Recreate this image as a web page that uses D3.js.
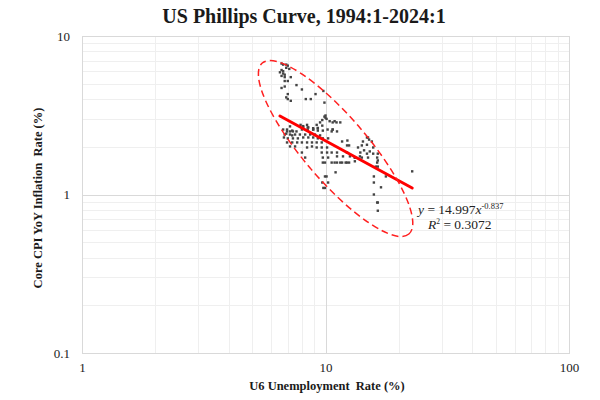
<!DOCTYPE html>
<html>
<head>
<meta charset="utf-8">
<script src="https://cdn.jsdelivr.net/npm/d3@7"></script>
<style>
  html, body { margin: 0; padding: 0; background: #fff; }
  svg { display: block; }
  text { white-space: pre; }
</style>
</head>
<body>
<svg id="chart" width="600" height="400"></svg>
<script>
// ---- Data ----
const title = "US Phillips Curve, 1994:1-2024:1";
const xLabel = "U6 Unemployment  Rate (%)";
const yLabel = "Core CPI YoY Inflation  Rate (%)";
const xTicks = [1, 10, 100];
const yTicks = [0.1, 1, 10];
const xTickLabels = ["1", "10", "100"];
const yTickLabels = ["0.1", "1", "10"];

// U6 unemployment rate (%)
const unemployment = [
  6.6,6.7,6.9,7.0,6.9,7.1,6.6,6.7,6.7,6.8,6.6,6.8,7.2,6.8,7.0,7.6,6.6,6.8,8.0,7.0,9.1,9.8,6.9,7.0,7.2,8.3,8.7,9.9,10.0,6.5,
  9.9,10.0,10.1,9.7,10.4,10.7,11.1,11.5,9.5,10.9,
  9.2,9.7,8.4,8.1,7.9,8.5,8.9,9.3,7.15,6.95,6.7,7.3,
  6.95,7.15,7.35,7.6,8.0,8.45,8.9,9.3,9.75,10.2,10.6,11.15,10.7,
  6.8,7.15,7.5,7.85,8.25,8.65,9.05,9.5,6.9,7.3,
  7.0,7.35,7.7,8.1,8.5,8.9,9.3,9.75,10.25,6.75,
  6.95,7.3,7.65,8.0,8.4,8.8,9.2,9.65,11.7,
  7.15,7.5,8.4,8.8,9.2,9.65,10.15,
  8.0,9.65,10.15,10.6,11.15,12.25,
  8.25,9.75,10.25,11.15,11.8,12.6,13.2,13.85,
  9.75,10.6,11.15,11.7,12.25,13.2,10.9,11.5,12.1,9.95,
  11.0,9.95,10.1,9.7,10.25,9.8,9.95,
  8.1,8.45,8.9,9.3,10.7,
  14.8,14.95,15.1,14.25,15.5,14.1,14.8,15.7,12.3,12.26,12.5,13.6,14.4,15.2,13.9,14.8,15.7,16.4,
  13.2,14.1,14.95,16.3,16.4,16.3,16.1,16.4,15.8,17.7,15.8,16.9,15.8,16.3,16.4,16.4,22.7,12.5
];
// Core CPI YoY inflation rate (%)
const inflation = [
  6.7,6.6,6.6,6.5,6.3,6.2,6.1,6.0,5.8,5.7,5.6,5.5,5.5,5.2,5.2,4.9,4.7,4.8,4.6,4.3,4.3,4.5,4.1,4.0,3.9,4.0,4.0,3.8,3.15,5.9,
  3.1,3.05,3.0,2.95,2.9,2.85,2.85,2.85,2.85,2.9,
  2.75,2.72,2.75,2.7,2.75,2.65,2.62,2.63,2.69,2.57,2.57,2.53,
  2.5,2.5,2.5,2.5,2.57,2.57,2.57,2.53,2.53,2.57,2.5,2.5,2.57,
  2.39,2.39,2.39,2.39,2.39,2.39,2.39,2.36,2.42,2.36,
  2.26,2.26,2.26,2.29,2.29,2.29,2.26,2.26,2.26,2.29,
  2.13,2.13,2.13,2.13,2.13,2.13,2.13,2.13,2.16,
  2.01,2.01,1.98,2.01,1.98,1.98,1.98,
  1.84,1.84,1.84,1.84,1.84,1.84,
  1.71,1.71,1.71,1.74,1.74,1.74,1.71,1.74,
  1.59,1.59,1.59,1.59,1.59,1.62,1.59,1.59,1.59,1.59,
  1.38,1.30,1.30,1.19,1.19,1.10,1.10,
  2.65,2.65,2.57,2.61,2.57,
  2.29,2.29,2.22,2.16,2.16,2.04,2.06,1.98,2.19,2.04,2.04,1.98,1.90,1.87,1.84,1.81,1.81,1.81,
  1.71,1.71,1.71,1.71,1.64,1.59,1.50,1.50,1.30,1.30,1.19,1.11,1.00,0.89,0.89,0.79,1.40,1.59
];

// Power trend line shown on the chart: y = a * x^b
const trendCoef = [14.997, -0.837];
const trendR2 = 0.3072;
// Dashed ellipse annotation: two tips of its long axis, in data units
const ellipseTips = [[5.5, 6.75], [22.0, 0.563]];

// ---- Layout / style ----
const svg = d3.select("#chart");
const W = 600, H = 400;
const plot = { left: 82, right: 569, top: 36, bottom: 353 };
const serif = "'Liberation Serif', 'Times New Roman', serif";

svg.append("rect").attr("width", W).attr("height", H).attr("fill", "#fff");

const x = d3.scaleLog().domain([1, 100]).range([plot.left, plot.right]);
const y = d3.scaleLog().domain([0.1, 10]).range([plot.bottom, plot.top]);

function minorVals(lo, hi) {
  const out = [];
  for (let d = lo; d < hi; d *= 10) for (let k = 2; k <= 9; k++) out.push(d * k);
  return out;
}
const g = svg.append("g");
g.selectAll(".vminor").data(minorVals(1, 100)).enter().append("line")
  .attr("x1", d => Math.round(x(d)) + 0.5).attr("x2", d => Math.round(x(d)) + 0.5)
  .attr("y1", plot.top).attr("y2", plot.bottom)
  .attr("stroke", "#efefef").attr("stroke-width", 1);
g.selectAll(".hminor").data(minorVals(0.1, 10)).enter().append("line")
  .attr("y1", d => Math.round(y(d)) + 0.5).attr("y2", d => Math.round(y(d)) + 0.5)
  .attr("x1", plot.left).attr("x2", plot.right)
  .attr("stroke", "#efefef").attr("stroke-width", 1);
g.selectAll(".vmajor").data(xTicks).enter().append("line")
  .attr("x1", d => Math.round(x(d)) + 0.5).attr("x2", d => Math.round(x(d)) + 0.5)
  .attr("y1", plot.top).attr("y2", plot.bottom)
  .attr("stroke", "#d9d9d9").attr("stroke-width", 1);
g.selectAll(".hmajor").data(yTicks).enter().append("line")
  .attr("y1", d => Math.round(y(d)) + 0.5).attr("y2", d => Math.round(y(d)) + 0.5)
  .attr("x1", plot.left).attr("x2", plot.right)
  .attr("stroke", "#d9d9d9").attr("stroke-width", 1);

// Axes (labels only, via d3 axes)
const xAxis = d3.axisBottom(x).tickValues(xTicks).tickFormat((d, i) => xTickLabels[i]).tickSize(0).tickPadding(10);
const yAxis = d3.axisLeft(y).tickValues(yTicks).tickFormat((d, i) => yTickLabels[i]).tickSize(0).tickPadding(12);
const gx = svg.append("g").attr("transform", `translate(0,${plot.bottom})`).call(xAxis);
const gy = svg.append("g").attr("transform", `translate(${plot.left},0)`).call(yAxis);
[gx, gy].forEach(a => {
  a.select(".domain").remove();
  a.selectAll("text").attr("font-family", serif).attr("font-size", 13).attr("fill", "#222");
});

// Scatter points
const pts = unemployment.map((u, i) => [u, inflation[i]]);
svg.append("g").selectAll("rect").data(pts).enter().append("rect")
  .attr("x", d => x(d[0]) - 1.2).attr("y", d => y(d[1]) - 1.2)
  .attr("width", 2.4).attr("height", 2.4)
  .attr("fill", "#444");

// Trend line
const xMin = d3.min(unemployment), xMax = d3.max(unemployment);
const trendPts = [xMin, xMax].map(u => [u, trendCoef[0] * Math.pow(u, trendCoef[1])]);
svg.append("line")
  .attr("x1", x(trendPts[0][0])).attr("y1", y(trendPts[0][1]))
  .attr("x2", x(trendPts[1][0])).attr("y2", y(trendPts[1][1]))
  .attr("stroke", "#ff0000").attr("stroke-width", 3).attr("stroke-linecap", "round");

// Ellipse annotation
const p1 = [x(ellipseTips[0][0]), y(ellipseTips[0][1])];
const p2 = [x(ellipseTips[1][0]), y(ellipseTips[1][1])];
const cx = (p1[0] + p2[0]) / 2, cy = (p1[1] + p2[1]) / 2;
const rx = Math.hypot(p2[0] - p1[0], p2[1] - p1[1]) / 2;
const ang = Math.atan2(p2[1] - p1[1], p2[0] - p1[0]) * 180 / Math.PI;
svg.append("ellipse")
  .attr("cx", 0).attr("cy", 0).attr("rx", rx).attr("ry", 32)
  .attr("transform", `translate(${cx},${cy}) rotate(${ang})`)
  .attr("fill", "none").attr("stroke", "#ff2020").attr("stroke-width", 1.5)
  .attr("stroke-dasharray", "7,4");

// Plot border
svg.append("rect")
  .attr("x", plot.left + 0.5).attr("y", plot.top + 0.5)
  .attr("width", plot.right - plot.left).attr("height", plot.bottom - plot.top)
  .attr("fill", "none").attr("stroke", "#d9d9d9");

// Equation text
const eq = svg.append("text").attr("x", 418).attr("y", 214)
  .attr("font-family", serif).attr("font-size", 13.5).attr("fill", "#222");
eq.append("tspan").attr("font-style", "italic").text("y");
eq.append("tspan").text(" = " + trendCoef[0].toFixed(3));
eq.append("tspan").attr("font-style", "italic").text("x");
eq.append("tspan").attr("font-size", 8.5).attr("dy", -5).text(trendCoef[1].toFixed(3));
const r2 = svg.append("text").attr("x", 428).attr("y", 229)
  .attr("font-family", serif).attr("font-size", 13.5).attr("fill", "#222");
r2.append("tspan").attr("font-style", "italic").text("R");
r2.append("tspan").attr("font-size", 7.5).attr("dy", -5).text("2");
r2.append("tspan").attr("dy", 5).text(" = " + trendR2.toFixed(4));

// Title and axis titles
svg.append("text").attr("x", 304).attr("y", 23).attr("text-anchor", "middle")
  .attr("font-family", serif).attr("font-weight", "bold").attr("font-size", 20).attr("fill", "#1a1a1a")
  .text(title);
svg.append("text").attr("x", 327).attr("y", 390).attr("text-anchor", "middle")
  .attr("font-family", serif).attr("font-weight", "bold").attr("font-size", 12.5).attr("fill", "#1a1a1a")
  .text(xLabel);
svg.append("text").attr("transform", "translate(42,198) rotate(-90)").attr("text-anchor", "middle")
  .attr("font-family", serif).attr("font-weight", "bold").attr("font-size", 12.5).attr("fill", "#1a1a1a")
  .text(yLabel);
</script>
</body>
</html>
